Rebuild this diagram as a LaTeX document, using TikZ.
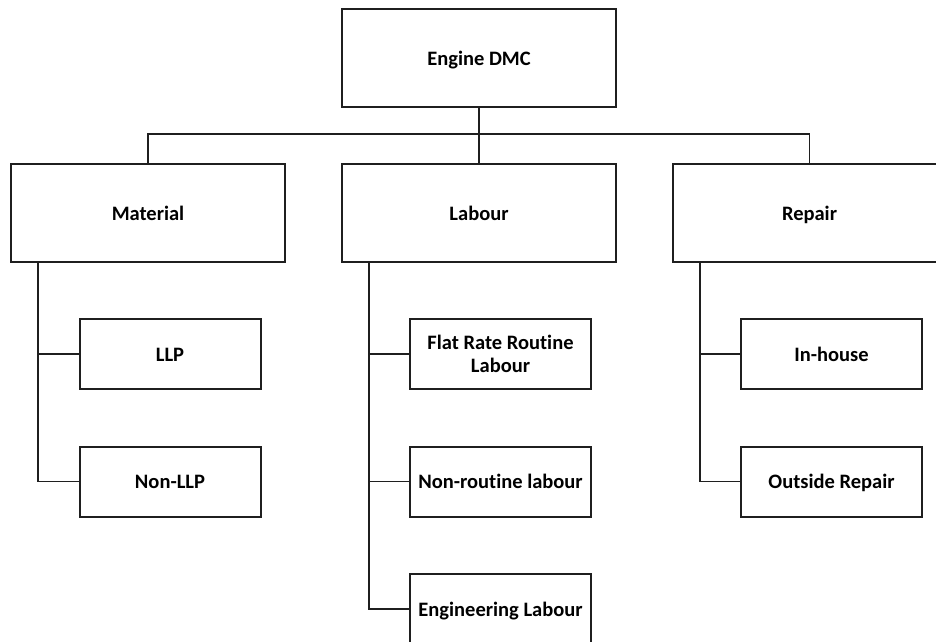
\documentclass[tikz,border=0pt]{standalone}
\usepackage{fontspec}
\setmainfont[RawFeature=-liga]{Carlito}
\begin{document}
\begin{tikzpicture}[x=1pt,y=-1pt,
  box/.style={draw=black!88,line width=2pt,rectangle,align=center,
    font=\fontsize{20.5}{23.5}\selectfont\bfseries,inner sep=0pt},
  oneline/.style={text height=15pt,text depth=1pt},
  bigbox/.style={box,oneline,minimum width=274pt,minimum height=98pt},
  leafbox/.style={box,minimum width=181pt,minimum height=70pt},
  link/.style={draw=black!88,line width=1.7pt}]
\useasboundingbox[fill=white] (0,0) rectangle (936,641);

% top level
\node[bigbox] (eng) at (479,58) {Engine DMC};

% second level
\node[bigbox] (mat) at (148,213) {Material};
\node[bigbox] (lab) at (479,213) {Labour};
\node[bigbox] (rep) at (809.5,213) {Repair};

% leaves
\node[leafbox,oneline] (llp)  at (170,354)   {LLP};
\node[leafbox,oneline] (nllp) at (170,481.5) {Non-LLP};
\node[leafbox] (frl)  at (500.5,354)   {Flat Rate Routine\\Labour};
\node[leafbox,oneline] (nrl)  at (500.5,481.5) {Non-routine labour};
\node[leafbox,oneline] (eng2) at (500.5,609)   {Engineering Labour};
\node[leafbox,oneline] (inh)  at (831.5,354)   {In-house};
\node[leafbox,oneline] (out)  at (831.5,481.5) {Outside Repair};

% bus from the root to the three categories
\draw[link] (eng.south) -- (lab.north);
\draw[link] (mat.north) -- ++(0,-29) -| (rep.north);

% trunks down the left side of each category
\coordinate (mt) at (38,262);
\coordinate (lt) at (369,262);
\coordinate (rt) at (700,262);
\draw[link] (mt) |- (llp.west);
\draw[link] (mt) |- (nllp.west);
\draw[link] (lt) |- (frl.west);
\draw[link] (lt) |- (nrl.west);
\draw[link] (lt) |- (eng2.west);
\draw[link] (rt) |- (inh.west);
\draw[link] (rt) |- (out.west);
\end{tikzpicture}
\end{document}
